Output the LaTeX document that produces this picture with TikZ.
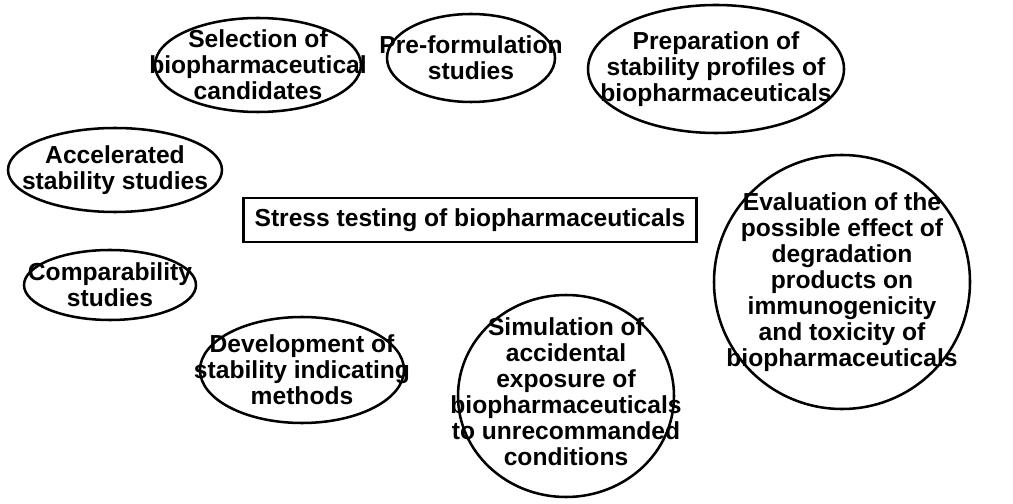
\documentclass[tikz,border=0pt]{standalone}
\usepackage{fontspec}
\setmainfont{Liberation Sans}
\begin{document}
\begin{tikzpicture}[x=0.025cm,y=-0.025cm,
  txt/.style={inner sep=0pt,align=center,font=\fontsize{17.5}{18.5}\selectfont\bfseries},
  ring/.style={draw,line width=1.8pt},
  box/.style={rectangle,draw,line width=1.8pt,inner sep=0pt,
    minimum width=453*0.025cm,minimum height=44*0.025cm,
    font=\fontsize{17.5}{18.5}\selectfont\bfseries}]
\useasboundingbox (0,0) rectangle (1013,504);
\node[txt] (sel) at (258,65) {Selection of\\biopharmaceutical\\candidates};
\draw[ring] (sel) ellipse [x radius=103*0.025cm, y radius=47*0.025cm];
\node[txt] (pre) at (471,58) {Pre-formulation\\studies};
\draw[ring] (pre) ellipse [x radius=84*0.025cm, y radius=44*0.025cm];
\node[txt] (prep) at (716,69) {Preparation of\\stability profiles of\\biopharmaceuticals};
\draw[ring] (prep) ellipse [x radius=128*0.025cm, y radius=64*0.025cm];
\node[txt] (acc) at (115,170) {Accelerated\\stability studies};
\draw[ring] (acc) ellipse [x radius=107*0.025cm, y radius=42*0.025cm];
\node[txt] (comp) at (110,285) {Comparability\\studies};
\draw[ring] (comp) ellipse [x radius=86*0.025cm, y radius=35*0.025cm];
\node[txt] (dev) at (302,370) {Development of\\stability indicating\\methods};
\draw[ring] (dev) ellipse [x radius=102*0.025cm, y radius=53*0.025cm];
\node[txt] (sim) at (566,392) {Simulation of\\accidental\\exposure of\\biopharmaceuticals\\to unrecommanded\\conditions};
\draw[ring] (566,396) ellipse [x radius=108*0.025cm, y radius=101*0.025cm];
\node[txt] (eval) at (842,282) {Evaluation of the\\possible effect of\\degradation\\products on\\immunogenicity\\and toxicity of\\biopharmaceuticals};
\draw[ring] (eval) ellipse [x radius=128*0.025cm, y radius=127*0.025cm];
\node[box] (st) at (470,220) {Stress testing of biopharmaceuticals};
\end{tikzpicture}
\end{document}
